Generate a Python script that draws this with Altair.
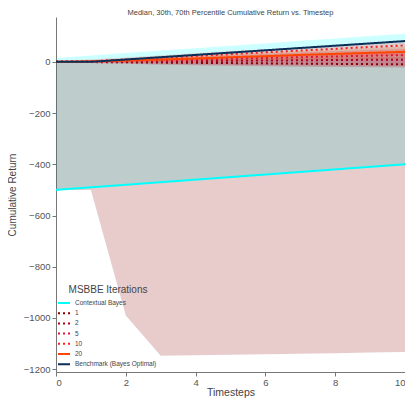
import altair as alt
import pandas as pd

timesteps = [0, 1, 2, 3, 4, 5, 6, 7, 8, 9, 10]

series_names = ["Contextual Bayes", "1", "2", "5", "10", "20", "Benchmark (Bayes Optimal)"]
series_colors = ["#00ffff", "#8b0000", "#b0001a", "#dc143c", "#ff1a1a", "#ff4500", "#0b2e59"]
series_dash = [[1, 0], [2, 3], [2, 3], [2, 3], [2, 3], [1, 0], [1, 0]]

# medians
cb_med = [-500, -490, -480, -470, -460, -450, -440, -430, -420, -410, -400]
it1_med = [0, -1, -2, -3, -4, -5, -6, -7, -8, -9, -9]
it2_med = [0, 0, 1, 2, 3, 4, 5, 6, 7, 8, 8]
it5_med = [0, 0, 3, 6, 9, 12, 15, 18, 21, 24, 26]
it10_med = [0, 2, 9, 16, 23, 30, 37, 44, 51, 58, 64]
it20_med = [0, 1, 5, 9, 13, 18, 22, 27, 31, 35, 39]
bench_med = [0, 0, 9, 18, 27, 36, 45, 54, 63, 72, 81]

# 30th / 70th percentile bands
cb_lo = [-500, -490, -480, -470, -460, -450, -440, -430, -420, -410, -400]
cb_hi = [15, 25, 34, 44, 53, 63, 72, 82, 91, 101, 110]
it1_lo = [-500, -500, -990, -1148, -1146, -1144, -1142, -1140, -1138, -1135, -1133]
it1_hi = [2, 3, 5, 7, 9, 11, 13, 15, 17, 19, 20]
it2_lo = [-2, -5, -8, -11, -13, -15, -17, -19, -20, -21, -22]
it2_hi = [2, 4, 8, 12, 16, 20, 24, 28, 32, 36, 40]
it5_lo = [-1, -3, -5, -7, -9, -11, -12, -13, -14, -15, -16]
it5_hi = [3, 6, 11, 16, 21, 26, 31, 36, 41, 46, 50]
it10_lo = [0, -1, 0, 3, 6, 9, 12, 15, 18, 21, 24]
it10_hi = [4, 9, 17, 25, 33, 41, 49, 56, 63, 70, 76]
it20_lo = [-1, -2, -2, -1, 1, 3, 5, 7, 9, 11, 13]
it20_hi = [3, 6, 12, 18, 24, 30, 36, 42, 48, 54, 60]

meds = [cb_med, it1_med, it2_med, it5_med, it10_med, it20_med, bench_med]
los = [cb_lo, it1_lo, it2_lo, it5_lo, it10_lo, it20_lo]
his = [cb_hi, it1_hi, it2_hi, it5_hi, it10_hi, it20_hi]

line_rows = []
for name, med in zip(series_names, meds):
    for t, v in zip(timesteps, med):
        line_rows.append({"t": t, "v": v, "series": name})
lines_df = pd.DataFrame(line_rows)

band_rows = []
for name, lo, hi in zip(series_names[:6], los, his):
    for t, a, b in zip(timesteps, lo, hi):
        band_rows.append({"t": t, "lo": a, "hi": b, "series": name})
bands_df = pd.DataFrame(band_rows)

FONT = "Liberation Sans"
xscale = alt.Scale(domain=[0, 10], nice=False, zero=False)
yscale = alt.Scale(domain=[-1211, 175], nice=False, zero=False)
cscale = alt.Scale(domain=series_names, range=series_colors)
dscale = alt.Scale(domain=series_names, range=series_dash)

xaxis = alt.Axis(values=[0, 2, 4, 6, 8, 10], title="Timesteps", grid=False, format="d",
                 labelFont=FONT, labelFontSize=9.5, labelColor="#555", titleFont=FONT,
                 titleFontSize=10.5, titleFontWeight="normal", titleColor="#444",
                 tickColor="#777", domainColor="#777", tickSize=4, labelPadding=1, titlePadding=1)
yaxis = alt.Axis(values=[0, -200, -400, -600, -800, -1000, -1200], title="Cumulative Return",
                 grid=False, format="d", labelFont=FONT, labelFontSize=9.5, labelColor="#555",
                 titleFont=FONT, titleFontSize=10, titleFontWeight="normal", titleColor="#444",
                 tickColor="#777", domainColor="#777", tickSize=4, labelPadding=2, titlePadding=6)

leg = alt.Legend(title="MSBBE Iterations", orient="bottom-left",
                 symbolType="M-1.5,0H1.5", symbolSize=64, symbolStrokeWidth=2, symbolOpacity=1,
                 labelFont=FONT, labelFontSize=6.5, labelColor="#444",
                 titleFont=FONT, titleFontSize=10, titleFontWeight="normal", titleColor="#444",
                 titleAnchor="middle", rowPadding=1.2, padding=2, offset=1, labelOffset=6,
                 titlePadding=3)

cb_band = alt.Chart(bands_df[bands_df.series == "Contextual Bayes"]).mark_area(opacity=0.2).encode(
    x=alt.X("t:Q", scale=xscale, axis=xaxis),
    y=alt.Y("lo:Q", scale=yscale, axis=yaxis),
    y2="hi:Q",
    color=alt.Color("series:N", scale=cscale, legend=leg),
)
red_bands = alt.Chart(bands_df[bands_df.series != "Contextual Bayes"]).mark_area(opacity=0.2).encode(
    x=alt.X("t:Q", scale=xscale),
    y=alt.Y("lo:Q", scale=yscale),
    y2="hi:Q",
    color=alt.Color("series:N", scale=cscale, legend=leg),
)

lines = alt.Chart(lines_df).mark_line(strokeWidth=2).encode(
    x=alt.X("t:Q", scale=xscale),
    y=alt.Y("v:Q", scale=yscale),
    color=alt.Color("series:N", scale=cscale, legend=leg),
    strokeDash=alt.StrokeDash("series:N", scale=dscale, legend=leg),
)

chart = alt.layer(cb_band, red_bands, lines).properties(
    width=349, height=355,
    title=alt.Title("Median, 30th, 70th Percentile Cumulative Return vs. Timestep",
                    font=FONT, fontSize=7.5, fontWeight="normal", color="#444", offset=1),
    autosize=alt.AutoSizeParams(type="none"),
    padding={"left": 48, "top": 9, "right": 0, "bottom": 28},
).configure_view(stroke=None)

chart.save("out.html", embed_options={"renderer": "svg", "actions": False})
